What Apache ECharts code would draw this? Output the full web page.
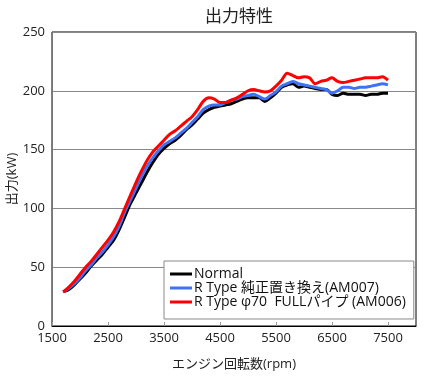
<!DOCTYPE html>
<html><head><meta charset="utf-8">
<script src="https://cdn.jsdelivr.net/npm/echarts@6/dist/echarts.min.js"></script>
<style>html,body{margin:0;padding:0;background:#fff}#c{width:430px;height:379px}</style>
</head><body><div id="c"></div>
<script>
const rpm = [1700,1800,1900,2000,2100,2200,2300,2400,2500,2600,2700,2800,2900,3000,3100,3200,3300,3400,3500,3600,3700,3800,3900,4000,4100,4200,4300,4400,4500,4600,4700,4800,4900,5000,5100,5200,5300,5400,5500,5600,5700,5800,5900,6000,6100,6200,6300,6400,6500,6600,6700,6800,6900,7000,7100,7200,7300,7400,7500];
const normal = [29,31,35,40,45,51,56,61,67,73,82,93,104,113,122,131,139,146,151,155,158,162,167,171,176,181,184,186,187,188,189,191,193,194,194,194,191,194,198,203,205,206,203,204,203,202,201,201,197,196,198,197,197,197,196,197,197,198,198];
const am007 = [29,32,36,41,47,52,58,63,69,76,85,97,107,117,127,136,143,149,154,157,160,164,168,173,178,184,187,188,188,190,192,193,195,196,197,195,193,196,199,204,206,208,206,205,204,203,202,201,198,200,203,203,202,203,203,204,205,206,205];
const am006 = [29,33,38,44,50,55,61,67,73,80,89,100,111,122,132,141,148,153,158,163,166,170,174,178,184,191,194,193,190,190,192,194,197,200,201,200,199,200,204,209,215,213,211,212,211,206,208,209,211,208,207,208,209,210,211,211,211,212,209];
const names = ['Normal','R Type 純正置き換え(AM007)','R Type φ70  FULLパイプ (AM006)'];
const colors = ['#000000','#3f72f5','#ff0000'];
const xTicks = [1500,2500,3500,4500,5500,6500,7500];

const F = '"Open Sans", "Noto Sans CJK JP", sans-serif';
const mk = (arr)=>rpm.map((r,i)=>[r,arr[i]]);
const series = [normal, am007, am006].map((d,i)=>({
  name:names[i], type:'line', data:mk(d), showSymbol:false, smooth:0.3,
  lineStyle:{color:colors[i], width:3}, itemStyle:{color:colors[i]}
}));
const chart = echarts.init(document.getElementById('c'));
chart.setOption({
  animation:false,
  title:{text:'出力特性', left:234, textAlign:'center', top:4, textStyle:{fontFamily:F, fontSize:17, fontWeight:'normal', color:'#222'}},
  grid:{left:52, right:14, top:32, bottom:53, containLabel:false, outerBoundsMode:'none', show:true, borderColor:'#000', borderWidth:1},
  legend:{orient:'vertical', left:164, top:261, backgroundColor:'#fff', borderColor:'#888', borderWidth:1,
    padding:[6,8,10,6], itemGap:0, itemWidth:22, itemHeight:3, icon:'rect',
    textStyle:{fontFamily:F, fontSize:14, color:'#111', padding:[0,0,0,-3]}, data:names},
  xAxis:{type:'value', min:1500, max:8000, interval:1000,
    name:'エンジン回転数(rpm)', nameLocation:'middle', nameGap:32,
    nameTextStyle:{fontFamily:F, fontSize:13, color:'#222'},
    axisLine:{lineStyle:{color:'#000'}}, axisTick:{show:true, inside:true, length:4, lineStyle:{color:'#999'}},
    axisLabel:{fontFamily:F, fontSize:13, color:'#222', margin:6, showMaxLabel:false,
      formatter:(v)=> xTicks.includes(v)? String(v):''},
    splitLine:{show:false}},
  yAxis:{type:'value', min:0, max:250, interval:50,
    name:'出力(kW)', nameLocation:'middle', nameGap:33, nameRotate:90, nameMoveOverlap:false,
    nameTextStyle:{fontFamily:F, fontSize:13, color:'#222'},
    axisLine:{show:true, lineStyle:{color:'#777'}}, axisTick:{show:false},
    axisLabel:{fontFamily:F, fontSize:13, color:'#222', margin:7},
    splitLine:{lineStyle:{color:'#888', width:1}}},
  series
});
</script></body></html>
